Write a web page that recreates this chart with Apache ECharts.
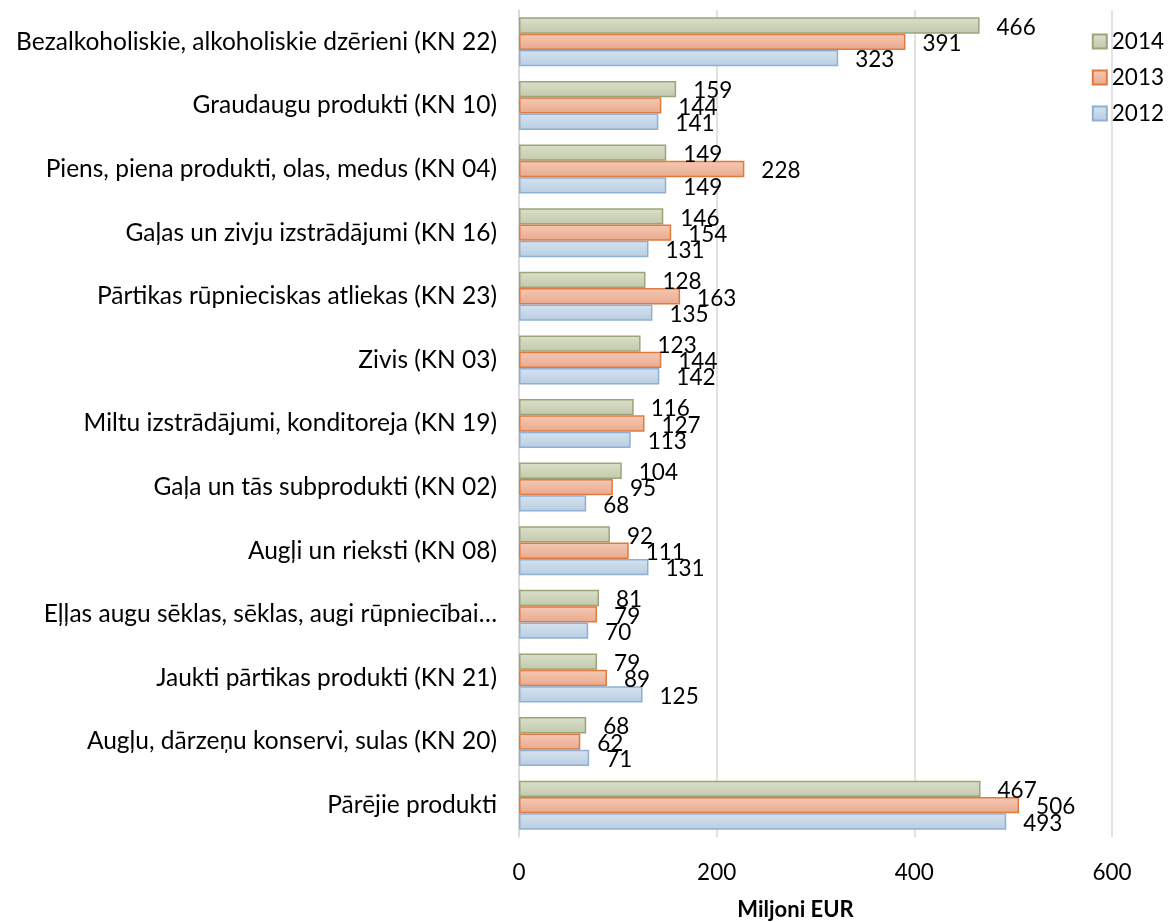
<!DOCTYPE html>
<html><head><meta charset="utf-8">
<script src="https://cdn.jsdelivr.net/npm/echarts@6/dist/echarts.min.js"></script>
<style>html,body{margin:0;padding:0;background:#fff}#c{width:1171px;height:922px}</style>
</head><body><div id="c"></div>
<script>
const categories = [
  "Bezalkoholiskie, alkoholiskie dzērieni (KN 22)",
  "Graudaugu produkti (KN 10)",
  "Piens, piena produkti, olas, medus (KN 04)",
  "Gaļas un zivju izstrādājumi (KN 16)",
  "Pārtikas rūpnieciskas atliekas (KN 23)",
  "Zivis (KN 03)",
  "Miltu izstrādājumi, konditoreja (KN 19)",
  "Gaļa un tās subprodukti (KN 02)",
  "Augļi un rieksti (KN 08)",
  "Eļļas augu sēklas, sēklas, augi rūpniecībai…",
  "Jaukti pārtikas produkti (KN 21)",
  "Augļu, dārzeņu konservi, sulas (KN 20)",
  "Pārējie produkti"
];
const values2014 = [466,159,149,146,128,123,116,104,92,81,79,68,467];
const values2013 = [391,144,228,154,163,144,127,95,111,79,89,62,506];
const values2012 = [323,141,149,131,135,142,113,68,131,70,125,71,493];
const xTicks = [0,200,400,600];

const FONT = 'Lato, "Noto Sans", sans-serif';
function grad(c1, c2){
  return new echarts.graphic.LinearGradient(0,0,0,1,[{offset:0,color:c1},{offset:1,color:c2}]);
}
function mk(name, data, c1, c2, border){
  return {
    name, type:'bar', data,
    barCategoryGap:'23%', barGap:'0%',
    itemStyle:{color:grad(c1,c2), borderColor:border, borderWidth:1.5},
    label:{show:true, position:'right', distance:17, fontSize:22.5, color:'#000', fontFamily:FONT, offset:[0,2]}
  };
}
const chart = echarts.init(document.getElementById('c'));
chart.setOption({
  animation:false,
  textStyle:{fontFamily:FONT},
  grid:{left:519, right:59, top:10, bottom:85, containLabel:false, outerBoundsMode:'none'},
  legend:{
    orient:'vertical', right:2, top:25, itemGap:13, itemTextGap:8,
    itemWidth:14, itemHeight:14, icon:'rect',
    textStyle:{fontSize:22.5, color:'#000', fontFamily:FONT},
    data:['2014','2013','2012']
  },
  xAxis:{
    type:'value', min:xTicks[0], max:xTicks[xTicks.length-1], interval:200,
    axisLine:{show:false}, axisTick:{show:false},
    splitLine:{show:true, lineStyle:{color:'#d9d9d9', width:1.5}},
    axisLabel:{fontSize:22.5, color:'#000', margin:24, fontFamily:FONT},
    name:'Miljoni EUR', nameLocation:'middle', nameGap:62,
    nameTextStyle:{fontSize:22, fontWeight:'bold', color:'#000', fontFamily:FONT, padding:[0,40,0,0]}
  },
  yAxis:{
    type:'category', data:categories, inverse:true,
    axisLine:{show:true, lineStyle:{color:'#d9d9d9', width:1.5}},
    axisTick:{show:false},
    axisLabel:{fontSize:24.5, color:'#000', margin:22, fontFamily:FONT}
  },
  series:[
    mk('2014', values2014, '#dbe0cb', '#c2c9ab', '#9ca57a'),
    mk('2013', values2013, '#f5c9b5', '#e9a98c', '#e07b3d'),
    mk('2012', values2012, '#d6e3f0', '#b8cde2', '#8fb0d3')
  ]
});
</script></body></html>
